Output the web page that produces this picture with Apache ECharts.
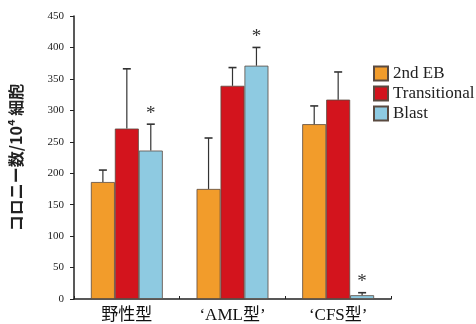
<!DOCTYPE html>
<html><head><meta charset="utf-8">
<script src="https://cdn.jsdelivr.net/npm/echarts@6/dist/echarts.min.js"></script>
<style>html,body{margin:0;padding:0;background:#fff}#c{width:476px;height:324px}</style>
</head><body><div id="c"></div>
<script>
var categories = ['野性型', '‘AML型’', '‘CFS型’'];
var seriesNames = ['2nd EB', 'Transitional', 'Blast'];
var values2ndEB = [186, 175, 278];
var valuesTransitional = [271, 339, 317];
var valuesBlast = [236, 371, 6];
var errTop2ndEB = [205, 256, 307];
var errTopTransitional = [366, 368, 361];
var errTopBlast = [278, 400, 10];
var sigBlast = [true, true, true];
var yTicks = [0, 50, 100, 150, 200, 250, 300, 350, 400, 450];

var colors = ['#F29C2B', '#D3141D', '#8ECAE1'];
var values = [values2ndEB, valuesTransitional, valuesBlast];
var errTops = [errTop2ndEB, errTopTransitional, errTopBlast];
var sigs = [[false,false,false],[false,false,false], sigBlast];
var gapPct = 0.32;

var chart = echarts.init(document.getElementById('c'));
var series = [];
seriesNames.forEach(function (name, si) {
  series.push({
    name: name, type: 'bar', data: values[si], barGap: '0%', barCategoryGap: (gapPct*100)+'%',
    itemStyle: { color: colors[si], borderColor: '#5a4a40', borderWidth: 0.8 },
    z: 2
  });
});
seriesNames.forEach(function (name, si) {
  var data = categories.map(function (c, i) { return [i, values[si][i], errTops[si][i], sigs[si][i] ? 1 : 0]; });
  series.push({
    type: 'custom', name: name + ' err', data: data, z: 3, silent: true,
    encode: { x: 0, y: [1, 2] },
    renderItem: function (params, api) {
      var idx = api.value(0);
      var band = api.size([1, 0])[0];
      var bw = band * (1 - gapPct) / 3;
      var base = api.coord([idx, api.value(1)]);
      var top = api.coord([idx, api.value(2)]);
      var x = base[0] + (si - 1) * bw;
      var children = [
        { type: 'line', shape: { x1: x, y1: base[1], x2: x, y2: top[1] }, style: { stroke: '#333', lineWidth: 1.2 } },
        { type: 'line', shape: { x1: x - 4, y1: top[1], x2: x + 4, y2: top[1] }, style: { stroke: '#333', lineWidth: 1.6 } }
      ];
      if (api.value(3)) {
        children.push({ type: 'text', style: { text: '*', x: x, y: top[1] - 1, align: 'center', verticalAlign: 'bottom', font: '19px "Liberation Serif"', fill: '#333' } });
      }
      return { type: 'group', children: children };
    }
  });
});

chart.setOption({
  animation: false,
  grid: { left: 72, right: 85, top: 16, bottom: 25, containLabel: false },
  legend: {
    data: seriesNames, orient: 'vertical', left: 373, top: 65, padding: 0, itemWidth: 14, itemHeight: 14, itemGap: 3,
    icon: 'rect', textStyle: { fontFamily: 'Liberation Serif', fontSize: 17, color: '#222' }
  },
  xAxis: {
    type: 'category', data: categories,
    axisLine: { lineStyle: { color: '#222', width: 1.5 } },
    axisTick: { show: true, inside: true, length: 3, lineStyle: { color: '#222' } },
    axisLabel: { fontFamily: 'Liberation Serif, Noto Sans CJK JP', fontSize: 17, color: '#111', margin: 8 }
  },
  yAxis: {
    type: 'value', min: 0, max: 450, interval: 50,
    name: 'コロニー数/10⁴ 細胞', nameLocation: 'middle', nameGap: 50,
    nameTextStyle: { fontFamily: 'Noto Sans CJK JP', fontSize: 16, fontWeight: 'bold', color: '#222' },
    axisLine: { show: true, lineStyle: { color: '#222', width: 1.5 } },
    axisTick: { show: true, length: 4, lineStyle: { color: '#222' } },
    splitLine: { show: false },
    axisLabel: { fontFamily: 'Liberation Serif', fontSize: 11, color: '#222', margin: 10,
      formatter: function (v) { return yTicks.indexOf(v) >= 0 ? String(v) : ''; } }
  },
  series: series
});
</script></body></html>
